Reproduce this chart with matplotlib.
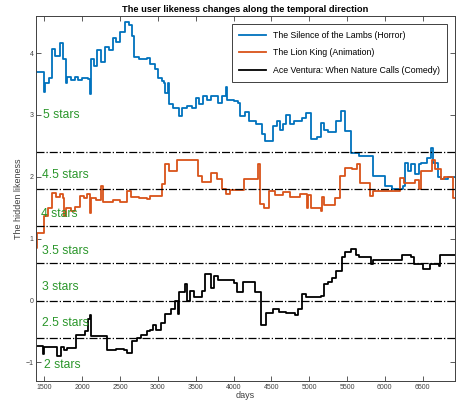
import numpy as np
import matplotlib.pyplot as plt

plt.rcParams['font.family'] = ['Liberation Sans', 'DejaVu Sans']

# The Silence of the Lambs (Horror)
blue_x = [1390, 1480, 1500, 1510, 1560, 1600, 1640, 1700, 1740, 1780, 1800, 1850, 1900, 1950,
          2000, 2080, 2100, 2110, 2160, 2200, 2250, 2300, 2350, 2400, 2450, 2500, 2560, 2620,
          2660, 2690, 2750, 2850, 2900, 2960, 3000, 3050, 3080, 3100, 3130, 3150, 3200, 3280,
          3320, 3380, 3450, 3500, 3550, 3600, 3650, 3700, 3800, 3850, 3900, 3920, 4000, 4060,
          4080, 4150, 4200, 4300, 4370, 4420, 4520, 4580, 4620, 4660, 4700, 4740, 4800, 4900,
          4960, 5030, 5100, 5160, 5190, 5250, 5350, 5420, 5470, 5550, 5660, 5840, 6000, 6100,
          6240, 6270, 6300, 6350, 6400, 6450, 6480, 6560, 6610, 6640, 6700, 6740, 6830, 6930]
blue_y = [3.69, 3.69, 3.37, 3.52, 3.6, 4.07, 3.95, 4.17, 3.9, 3.52, 3.62, 3.56, 3.62, 3.57,
          3.6, 3.58, 3.34, 3.9, 3.8, 4.05, 3.85, 4.1, 4.05, 4.25, 4.18, 4.35, 4.5, 4.45,
          4.28, 3.93, 3.9, 3.92, 3.82, 3.75, 3.6, 3.55, 3.52, 3.36, 3.52, 3.18, 3.12, 2.98,
          3.12, 3.15, 3.12, 3.28, 3.18, 3.3, 3.25, 3.3, 3.2, 3.3, 3.46, 3.25, 3.23, 3.2,
          2.98, 3.05, 2.9, 2.85, 2.69, 2.58, 2.82, 2.9, 2.75, 2.85, 3.0, 2.85, 2.9, 2.95,
          3.04, 2.61, 2.65, 2.87, 2.75, 2.73, 2.9, 3.06, 2.74, 2.39, 2.34, 2.01, 1.85, 1.8,
          1.85, 2.23, 2.1, 2.2, 2.05, 2.2, 2.23, 2.3, 2.47, 2.23, 2.0, 1.96, 2.0, 2.0]

# The Lion King (Animation)
orange_x = [1390, 1395, 1400, 1490, 1500, 1550, 1600, 1650, 1700, 1740, 1760, 1780, 1850, 1900,
            1970, 2020, 2060, 2100, 2110, 2180, 2250, 2270, 2400, 2500, 2590, 2650, 2750, 2850,
            2900, 3060, 3100, 3150, 3250, 3360, 3530, 3580, 3700, 3780, 3850, 3900, 3950, 4140,
            4320, 4350, 4400, 4470, 4550, 4650, 4750, 4880, 4970, 4980, 5030, 5150, 5170, 5200,
            5340, 5410, 5470, 5560, 5630, 5670, 5810, 5840, 6200, 6260, 6400, 6450, 6480, 6620,
            6660, 6740, 6780, 6900, 6930]
orange_y = [1.47, 0.85, 1.1, 1.1, 1.36, 1.5, 1.74, 1.68, 1.72, 1.65, 1.36, 1.5, 1.45, 1.52,
            1.69, 1.66, 1.72, 1.42, 1.66, 1.62, 1.85, 1.6, 1.62, 1.6, 1.77, 1.68, 1.66, 1.64,
            1.69, 1.88, 2.2, 2.09, 2.28, 2.28, 2.01, 1.92, 2.07, 1.96, 1.8, 1.72, 1.78, 1.96,
            2.2, 1.56, 1.5, 1.77, 1.7, 1.75, 1.68, 1.72, 1.5, 1.7, 1.5, 1.45, 1.68, 1.55,
            1.65, 2.01, 2.15, 2.12, 2.2, 1.9, 1.69, 1.77, 1.98, 1.9, 1.95, 1.8, 2.1, 2.28,
            2.12, 1.96, 2.0, 1.66, 1.66]

# Ace Ventura: When Nature Calls (Comedy)
black_x = [1390, 1480, 1500, 1670, 1720, 1760, 1800, 1920, 2030, 2080, 2100, 2120, 2330, 2450,
           2550, 2590, 2660, 2720, 2780, 2850, 2900, 2940, 2970, 3040, 3090, 3170, 3220, 3260,
           3280, 3360, 3380, 3420, 3480, 3580, 3620, 3700, 3740, 3790, 4000, 4050, 4130, 4280,
           4360, 4430, 4520, 4600, 4700, 4810, 4850, 4900, 4960, 5160, 5200, 5250, 5300, 5350,
           5430, 5480, 5550, 5620, 5660, 5820, 5850, 6000, 6200, 6230, 6350, 6380, 6500, 6600,
           6720, 6730, 6930]
black_y = [-0.73, -0.86, -0.75, -0.89, -0.75, -0.8, -0.76, -0.55, -0.49, -0.3, -0.24, -0.58, -0.8, -0.78,
           -0.8, -0.85, -0.65, -0.6, -0.55, -0.5, -0.48, -0.4, -0.48, -0.36, -0.21, -0.13, 0.0, -0.21,
           0.14, 0.26, 0.0, 0.16, 0.05, 0.16, 0.43, 0.21, 0.4, 0.34, 0.29, 0.14, 0.3, 0.14,
           -0.39, -0.2, -0.13, -0.18, -0.2, -0.23, -0.13, 0.11, 0.05, 0.07, 0.27, 0.3, 0.37, 0.48,
           0.7, 0.78, 0.84, 0.73, 0.7, 0.59, 0.65, 0.66, 0.66, 0.73, 0.71, 0.59, 0.51, 0.59,
           0.56, 0.73, 0.73]

thresholds = [2.4, 1.8, 1.2, 0.6, 0.0, -0.6]
star_labels = ['5 stars', '4.5 stars', '4 stars', '3.5 stars', '3 stars', '2.5 stars', '2 stars']
star_y = [3.0, 2.03, 1.4, 0.8, 0.22, -0.37, -1.04]
star_x = [1475, 1470, 1460, 1465, 1465, 1465, 1495]

fig = plt.figure(figsize=(4.57, 4.01), dpi=100)
ax = fig.add_axes([0.079, 0.05, 0.917, 0.91])

ax.plot(blue_x, blue_y, color='#0072BD', lw=1.3, drawstyle='steps-post',
        label='The Silence of the Lambs (Horror)')
ax.plot(orange_x, orange_y, color='#D95319', lw=1.3, drawstyle='steps-post',
        label='The Lion King (Animation)')
ax.plot(black_x, black_y, color='black', lw=1.3, drawstyle='steps-post',
        label='Ace Ventura: When Nature Calls (Comedy)')

for t in thresholds:
    ax.axhline(t, color='black', lw=0.9, ls='-.')

for s, x, y in zip(star_labels, star_x, star_y):
    ax.text(x, y, s, color='#2a962a', fontsize=8.7, va='center', ha='left')

ax.set_xlim(1390, 6930)
ax.set_ylim(-1.3, 4.6)
ax.set_xticks(np.arange(1500, 7000, 500))
ax.set_yticks(np.arange(-1, 5, 1))
ax.tick_params(direction='in', top=True, right=True, labelsize=5, colors='#404040',
               length=3.5, width=0.6, pad=2)
for sp in ax.spines.values():
    sp.set_color('#404040')
    sp.set_linewidth(0.7)

ax.set_title('The user likeness changes along the temporal direction', fontsize=6.7,
             fontweight='bold', pad=3)
ax.set_xlabel('days', fontsize=6.5, color='#404040', labelpad=0)
ax.set_ylabel('The hidden likeness', fontsize=6.5, color='#404040', labelpad=2)

leg = ax.legend(loc='upper right', bbox_to_anchor=(0.99, 0.99), fontsize=6.3,
                handlelength=3.0, labelspacing=0.95, borderpad=0.8, fancybox=False,
                framealpha=1, edgecolor='#404040')
leg.get_frame().set_linewidth(0.7)

fig.savefig('out.png', dpi=100)
